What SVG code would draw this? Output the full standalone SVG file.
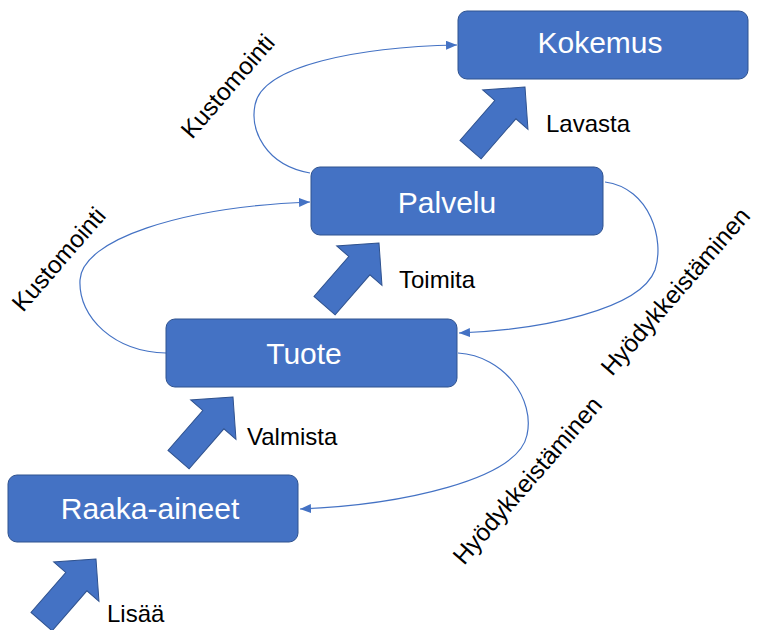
<svg xmlns="http://www.w3.org/2000/svg" width="757" height="630" viewBox="0 0 757 630">
  <style>
    .box { fill: #4472C4; stroke: #2F528F; stroke-width: 1; }
    .box-text { fill: #FFFFFF; font-family: "Liberation Sans", Arial, sans-serif; font-size: 30px; text-anchor: middle; }
    .label { fill: #000000; font-family: "Liberation Sans", Arial, sans-serif; font-size: 24px; }
    .slanted { font-size: 24.5px; }
    .link { fill: none; stroke: #4472C4; stroke-width: 1.2; marker-end: url(#tip); }
    .step { fill: #4472C4; stroke: #2F528F; stroke-width: 1; }
  </style>
  <defs>
    <marker id="tip" markerUnits="userSpaceOnUse" markerWidth="11" markerHeight="9" refX="11" refY="4.5" orient="auto">
      <path d="M0,0 L11,4.5 L0,9 Z" fill="#4472C4"/>
    </marker>
    <!-- block arrow pointing +x, tip at origin -->
    <path id="step-arrow" d="M0,0 L-30,-30 L-30,-14 L-83,-14 L-83,14 L-30,14 L-30,30 Z"/>
  </defs>

  <rect width="757" height="630" fill="#FFFFFF"/>

  <!-- curved feedback connectors -->
  <g id="connectors">
    <path class="link" d="M310,173 C265,165 250,130 255,105 C262,65 360,47 457,45"/>
    <path class="link" d="M166,353 C115,352 78,318 80,280 C82,240 180,207 310,202"/>
    <path class="link" d="M605,182 C650,188 665,240 655,270 C640,310 540,330 459,333"/>
    <path class="link" d="M458,353 C505,356 535,400 527,435 C518,480 400,505 300,509"/>
    <text class="label slanted" transform="translate(192,140) rotate(-49)">Kustomointi</text>
    <text class="label slanted" transform="translate(23,313) rotate(-49)">Kustomointi</text>
    <text class="label slanted" transform="translate(612,377) rotate(-49)">Hyödykkeistäminen</text>
    <text class="label slanted" transform="translate(464,566) rotate(-49)">Hyödykkeistäminen</text>
  </g>

  <!-- upward block arrows between levels -->
  <g id="steps">
    <use href="#step-arrow" class="step" transform="translate(96,559) rotate(-49)"/>
    <use href="#step-arrow" class="step" transform="translate(233,397) rotate(-49)"/>
    <use href="#step-arrow" class="step" transform="translate(379,243) rotate(-49)"/>
    <use href="#step-arrow" class="step" transform="translate(525,87) rotate(-49)"/>
    <text class="label" x="107" y="622">Lisää</text>
    <text class="label" x="247" y="445">Valmista</text>
    <text class="label" x="399" y="288">Toimita</text>
    <text class="label" x="546" y="132">Lavasta</text>
  </g>

  <g id="raaka-aineet">
    <rect class="box" x="8" y="475" width="290" height="67" rx="9"/>
    <text class="box-text" x="150" y="519">Raaka-aineet</text>
  </g>
  <g id="tuote">
    <rect class="box" x="166" y="319" width="291" height="68" rx="9"/>
    <text class="box-text" x="304" y="364">Tuote</text>
  </g>
  <g id="palvelu">
    <rect class="box" x="311" y="167" width="292" height="68" rx="9"/>
    <text class="box-text" x="447" y="213">Palvelu</text>
  </g>
  <g id="kokemus">
    <rect class="box" x="458" y="11" width="290" height="68" rx="9"/>
    <text class="box-text" x="600" y="53">Kokemus</text>
  </g>
</svg>
